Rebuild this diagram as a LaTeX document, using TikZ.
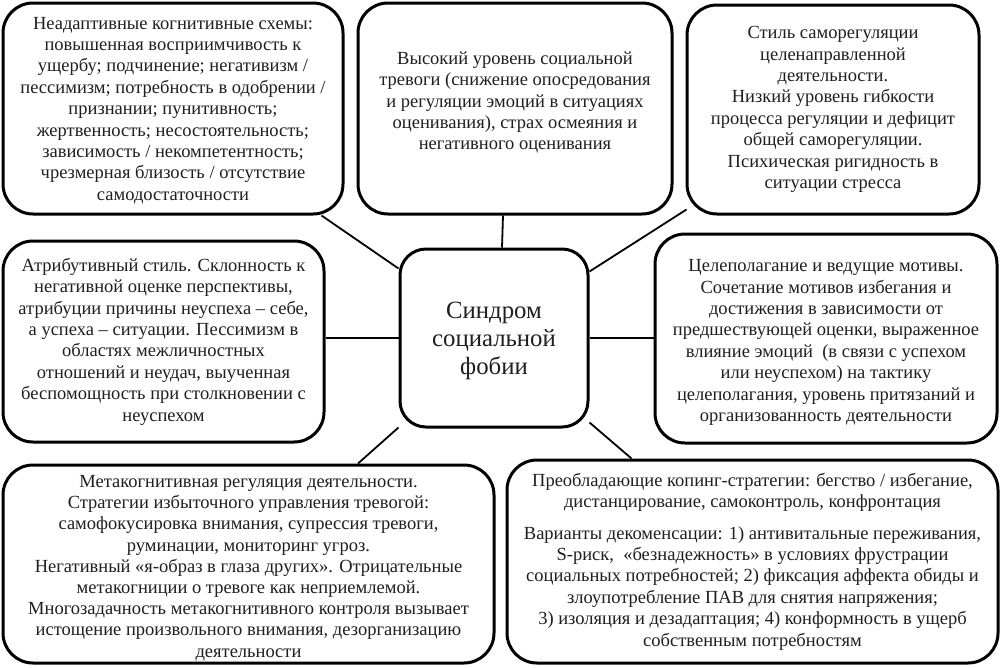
\documentclass[tikz,border=0pt]{standalone}
\usepackage{fontspec}
\setmainfont{Liberation Serif}
\usetikzlibrary{calc}
\begin{document}
\begin{tikzpicture}[x=1pt,y=-1pt,
  box/.style={draw=black, line width=3pt, rounded corners=30pt, align=center, inner sep=0pt,
    font=\fontsize{18.5}{21.4}\selectfont, text=black!88},
  txt/.style={align=center, inner sep=0pt, font=\fontsize{18.5}{21.4}\selectfont, text=black!88},
  hub/.style={box, rounded corners=26pt},
  hubtxt/.style={align=center, inner sep=0pt, font=\fontsize{24.8}{28}\selectfont, text=black!88},
  link/.style={draw=black, line width=1.8pt}]
\useasboundingbox (0,0) rectangle (1000,667);
\fill[white] (0,0) rectangle (1000,667);

\node[hub, minimum width=188pt, minimum height=178pt] (c) at (494,338) {};
\node[hubtxt] (ct) at ([yshift=-3pt]c.center) {Синдром\\социальной\\фобии};

\node[box, minimum width=340pt, minimum height=211pt] (b1) at (173,108.5) {};
\node[txt] (b1t) at ([yshift=-2pt]b1.center)
  {Неадаптивные когнитивные схемы:\\
   повышенная восприимчивость к\\
   ущербу; подчинение; негативизм /\\
   пессимизм; потребность в одобрении /\\
   признании; пунитивность;\\
   жертвенность; несостоятельность;\\
   зависимость / некомпетентность;\\
   чрезмерная близость / отсутствие\\
   самодостаточности};

\node[box, minimum width=314pt, minimum height=211pt] (b2) at (515,108.5) {};
\node[txt] (b2t) at ([yshift=6pt]b2.center)
  {Высокий уровень социальной\\
   тревоги (снижение опосредования\\
   и регуляции эмоций в ситуациях\\
   оценивания), страх осмеяния и\\
   негативного оценивания};

\node[box, minimum width=292pt, minimum height=209pt] (b3) at (833,109.5)
  {Стиль саморегуляции\\
   целенаправленной\\
   деятельности.\\
   Низкий уровень гибкости\\
   процесса регуляции и дефицит\\
   общей саморегуляции.\\
   Психическая ригидность в\\
   ситуации стресса};

\node[box, minimum width=321pt, minimum height=201pt] (b4) at (163.5,341.5)
  {Атрибутивный стиль. Склонность к\\
   негативной оценке перспективы,\\
   атрибуции причины неуспеха – себе,\\
   а успеха – ситуации. Пессимизм в\\
   областях межличностных\\
   отношений и неудач, выученная\\
   беспомощность при столкновении с\\
   неуспехом};

\node[box, minimum width=342pt, minimum height=209pt] (b5) at (826,338.5) {};
\node[txt] (b5t) at ([yshift=-4pt]b5.center)
  {Целеполагание и ведущие мотивы.\\
   Сочетание мотивов избегания и\\
   достижения в зависимости от\\
   предшествующей оценки, выраженное\\
   влияние эмоций~ (в связи с успехом\\
   или неуспехом) на тактику\\
   целеполагания, уровень притязаний и\\
   организованность деятельности};

\node[box, minimum width=491pt, minimum height=198pt] (b6) at (248.5,564) {};
\node[txt, font=\fontsize{18.5}{21.2}\selectfont] (b6t) at ([yshift=-4pt]b6.center)
  {Метакогнитивная регуляция деятельности.\\
   Стратегии избыточного управления тревогой:\\
   самофокусировка внимания, супрессия тревоги,\\
   руминации, мониторинг угроз.\\
   Негативный «я-образ в глаза других». Отрицательные\\
   метакогниции о тревоге как неприемлемой.\\
   Многозадачность метакогнитивного контроля вызывает\\
   истощение произвольного внимания, дезорганизацию\\
   деятельности};

\node[box, minimum width=491pt, minimum height=203pt] (b7) at (752.5,561.5)
  {Преобладающие копинг-стратегии: бегство / избегание,\\
   дистанцирование, самоконтроль, конфронтация\\[10pt]
   Варианты декоменсации: 1) антивитальные переживания,\\
   S-риск,~ «безнадежность» в условиях фрустрации\\
   социальных потребностей; 2) фиксация аффекта обиды и\\
   злоупотребление ПАВ для снятия напряжения;\\
   3) изоляция и дезадаптация; 4) конформность в ущерб\\
   собственным потребностям};

\draw[link] ([xshift=-23pt]b1.south east) -- ([yshift=-21pt]c.north west);
\draw[link] ([xshift=-12pt]b2.south) -- ([xshift=8pt]c.north);
\draw[link] ([xshift=1pt,yshift=6pt]b3.south west) -- ([yshift=-24pt]c.north east);
\draw[link] (b4.east |- c.west) -- (c.west);
\draw[link] (c.east) -- (c.east -| b5.west);
\draw[link] ([yshift=1pt]c.south west) -- ([xshift=109.5pt]b6.north);
\draw[link] ([yshift=6pt]c.south east) -- ([xshift=126pt]b7.north west);
\end{tikzpicture}
\end{document}
